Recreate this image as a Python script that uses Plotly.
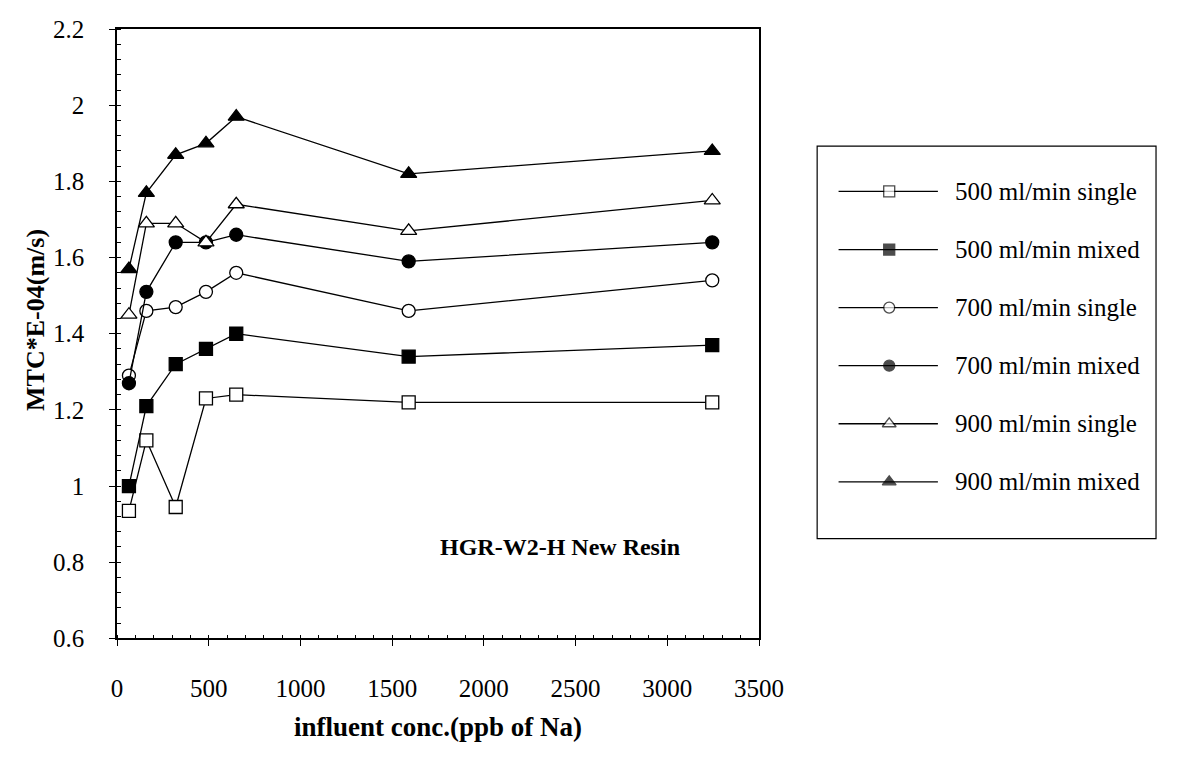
import plotly.graph_objects as go

# Influent concentration (ppb of Na)
conc = [65, 160, 320, 485, 650, 1590, 3245]

# Mass transfer coefficient, MTC*E-04 (m/s)
mtc_500_single = [0.935, 1.12, 0.945, 1.23, 1.24, 1.22, 1.22]
mtc_500_mixed = [1.00, 1.21, 1.32, 1.36, 1.40, 1.34, 1.37]
mtc_700_single = [1.29, 1.46, 1.47, 1.51, 1.56, 1.46, 1.54]
mtc_700_mixed = [1.27, 1.51, 1.64, 1.64, 1.66, 1.59, 1.64]
mtc_900_single = [1.45, 1.69, 1.69, 1.64, 1.74, 1.67, 1.75]
mtc_900_mixed = [1.57, 1.77, 1.87, 1.90, 1.97, 1.82, 1.88]

series_names = [
    "500 ml/min single",
    "500 ml/min mixed",
    "700 ml/min single",
    "700 ml/min mixed",
    "900 ml/min single",
    "900 ml/min mixed",
]

x_ticks = [0, 500, 1000, 1500, 2000, 2500, 3000, 3500]
y_ticks = [0.6, 0.8, 1.0, 1.2, 1.4, 1.6, 1.8, 2.0, 2.2]

series_values = [
    mtc_500_single, mtc_500_mixed, mtc_700_single,
    mtc_700_mixed, mtc_900_single, mtc_900_mixed,
]
# (symbol, fill colour) for each series
styles = [
    ("square", "white"),
    ("square", "black"),
    ("circle", "white"),
    ("circle", "black"),
    ("triangle-up", "white"),
    ("triangle-up", "black"),
]

W, H = 1182, 763
FONT = "Liberation Serif"
LINE_W = 1.3

# plot-area edges in pixels
PL, PR, PT, PB = 114, 773.3, 16.7, 648.3
# legend box edges in pixels
LL, LR, LT, LB = 833, 1181, 138, 545

fig = go.Figure()

for name, vals, (sym, fill) in zip(series_names, series_values, styles):
    size = 13 if sym != "triangle-up" else 14
    fig.add_trace(go.Scatter(
        x=conc, y=vals, mode="lines+markers", name=name, showlegend=False,
        line=dict(color="black", width=LINE_W),
        marker=dict(symbol=sym, size=size, color=fill,
                    line=dict(color="black", width=LINE_W)),
        xaxis="x", yaxis="y",
    ))

# legend drawn on its own small axes: long sample line with a centred marker
row_top, row_gap = 47, 60.2
seg_left, seg_mid, seg_right, text_x = 22, 74, 124, 139
for i, (name, (sym, fill)) in enumerate(zip(series_names, styles)):
    ry = row_top + row_gap * i
    size = 11 if sym != "triangle-up" else 12
    fig.add_trace(go.Scatter(
        x=[seg_left, seg_mid, seg_right], y=[ry, ry, ry],
        mode="lines+markers", showlegend=False, hoverinfo="skip",
        line=dict(color="black", width=LINE_W),
        marker=dict(symbol=sym, size=[0, size, 0], color=fill,
                    line=dict(color="black", width=[0, LINE_W, 0])),
        xaxis="x2", yaxis="y2",
    ))
    fig.add_annotation(
        x=text_x, y=ry, xref="x2", yref="y2", text=name, showarrow=False,
        xanchor="left", yanchor="middle",
        font=dict(family=FONT, size=25, color="black"),
    )

fig.add_shape(
    type="rect", xref="x2 domain", yref="y2 domain",
    x0=0, x1=1, y0=0, y1=1, line=dict(color="black", width=1.2),
)

axis_font = dict(family=FONT, size=25, color="black")

fig.update_layout(
    width=W, height=H,
    margin=dict(l=0, r=0, t=0, b=0),
    paper_bgcolor="white", plot_bgcolor="white",
    font=dict(family=FONT, color="black"),
    showlegend=False,
    xaxis=dict(
        domain=[PL / W, PR / W], range=[0, 3500],
        tickvals=x_ticks, ticktext=[str(v) for v in x_ticks],
        ticks="outside", ticklen=6, tickwidth=1.2, tickcolor="black",
        ticklabelstandoff=21,
        minor=dict(dtick=100, ticks="inside", ticklen=4, tickwidth=1,
                   tickcolor="black", showgrid=False),
        showline=True, linecolor="black", linewidth=1.5, mirror=True,
        showgrid=False, zeroline=False, tickfont=axis_font,
    ),
    yaxis=dict(
        domain=[1 - PB / H, 1 - PT / H], range=[0.6, 2.2],
        tickvals=y_ticks, ticktext=[f"{v:g}" for v in y_ticks],
        ticks="outside", ticklen=6, tickwidth=1.2, tickcolor="black",
        ticklabelstandoff=20,
        minor=dict(dtick=0.04, ticks="inside", ticklen=4, tickwidth=1,
                   tickcolor="black", showgrid=False),
        showline=True, linecolor="black", linewidth=1.5, mirror=True,
        showgrid=False, zeroline=False, tickfont=axis_font,
    ),
    xaxis2=dict(
        domain=[LL / W, LR / W], range=[0, LR - LL], visible=False,
        anchor="y2", fixedrange=True,
    ),
    yaxis2=dict(
        domain=[1 - LB / H, 1 - LT / H], range=[LB - LT, 0], visible=False,
        anchor="x2", fixedrange=True,
    ),
)

# axis titles
fig.add_annotation(
    x=(PL + PR) / 2 / W, y=1 - 740 / H, xref="paper", yref="paper",
    text="<b>influent conc.(ppb of Na)</b>", showarrow=False,
    xanchor="center", yanchor="middle",
    font=dict(family=FONT, size=27, color="black"),
)
fig.add_annotation(
    x=31 / W, y=1 - 318 / H, xref="paper", yref="paper",
    text="<b>MTC*E-04(m/s)</b>", showarrow=False, textangle=-90,
    xanchor="center", yanchor="middle",
    font=dict(family=FONT, size=26, color="black"),
)

# in-plot label
fig.add_annotation(
    x=2415, y=0.841, xref="x", yref="y",
    text="<b>HGR-W2-H New Resin</b>", showarrow=False,
    xanchor="center", yanchor="middle",
    font=dict(family=FONT, size=24, color="black"),
)

fig.write_html("out.html")
